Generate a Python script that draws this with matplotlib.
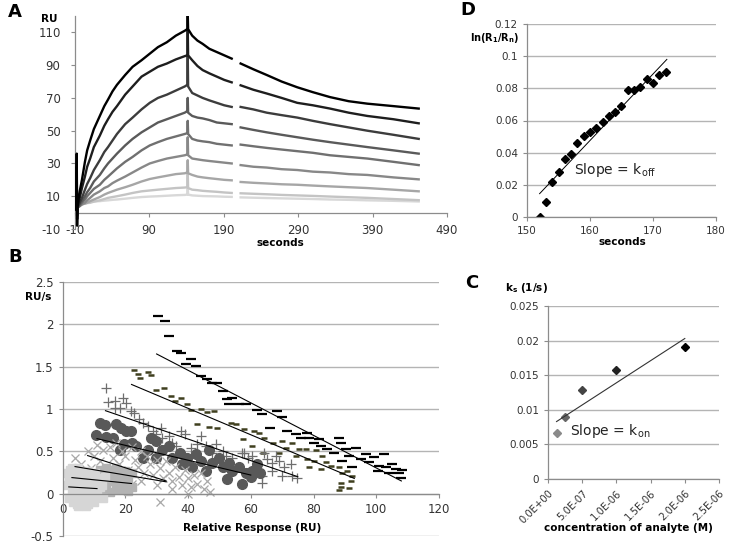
import numpy as np
import matplotlib.pyplot as plt

plt.rcParams["font.family"] = ["DejaVu Sans"]
plt.rcParams["axes.unicode_minus"] = False

# ---------------- panel A: sensorgrams ----------------
nan = np.nan
t_assoc = [-10, -7.5, -7, -6.5, -6, -3, 0, 4, 7, 11, 16, 24, 30, 35, 41, 47, 58, 68, 80, 91,
           102, 114, 126, 138, 141.5]
t_spike = [142]
t_diss = [142.5, 148, 155, 162, 171, 181, 191, 201, 207, 213, 230, 248, 268, 289,
          310, 333, 358, 383, 418, 452]

c1_assoc = [2, 2, 36, -8, 4, 13, 20, 31, 38, 44, 51, 59, 65, 69, 74, 78, 84, 89, 93, 97, 101, 104, 108, 111, 112]
c2_assoc = [2, 2, 28, -4, 3, 9, 15, 22, 28, 33, 40, 47, 53, 57, 61.5, 65, 72, 77, 83, 86, 89, 91, 93.5, 95.5, 96]
c3_assoc = [2, 2, 20, -2, 3, 6, 9, 14, 17.5, 21, 26, 32, 37, 40, 44, 48, 54, 58, 63, 67, 70, 72, 74.5, 77, 78]
c4_assoc = [3, 3, 10, 1, 3, 5, 7, 10, 12.5, 15, 19, 23, 27, 30, 33, 36, 41, 45, 49, 52, 55, 57, 59, 61, 62]
c5_assoc = [3, 3, 6, 2, 3, 4, 6, 8, 10, 12, 14.5, 17, 20, 22, 24.5, 27, 31, 34, 38, 41, 43, 45, 46.5, 48, 48.5]
c6_assoc = [3, 3, 4, 3, 3, 4, 5, 6, 7.5, 9, 11, 13, 15, 16, 18, 19.5, 22, 24.5, 27.5, 30, 31.5, 33, 34, 35, 35.5]
c7_assoc = [4, 4, 4, 4, 4, 4, 5, 5.5, 6, 7, 8, 9.5, 11, 12, 13, 14, 15.5, 17, 19, 20.5, 21.5, 22.5, 23.5, 24, 24.5]
c8_assoc = [5, 5, 5, 5, 5, 5, 5, 5.5, 5.8, 6, 6.7, 7.5, 8.3, 9, 9.5, 10, 11, 12, 13, 13.5, 14, 14.5, 15, 15.3, 15.5]
c9_assoc = [6, 6, 6, 6, 6, 6, 6, 6, 6.2, 6.5, 6.8, 7, 7.3, 7.5, 7.8, 8, 8.5, 9, 9.5, 9.8, 10, 10.3, 10.6, 10.8, 11]

spikes = [121, 112, 96, 70, 56, 46, 32, 24, 16]

c1_diss = [112, 108, 105, 103, 100, 98, 96, 94, nan, 91, 87.5, 84, 80, 76.5, 73.5, 70.5, 68, 66.5, 65, 63.5]
c2_diss = [96, 93, 89.5, 87, 85, 83, 81, 79.5, nan, 77.7, 75, 72.7, 70, 67, 65.5, 63.5, 61, 59, 57, 54.5]
c3_diss = [77, 73, 71.5, 70, 68.5, 67, 65.5, 64.5, nan, 64.5, 63, 61, 59.5, 58, 56, 54, 52, 50, 47.5, 45]
c4_diss = [61, 59, 58, 57.5, 56.5, 55, 54.5, 54, nan, 52, 50.5, 49, 47.5, 46, 44.5, 43, 41.5, 40, 38, 36]
c5_diss = [48, 45, 44, 43.5, 43, 42, 41.5, 41, nan, 41.5, 40.5, 39.5, 38.5, 37.5, 36.5, 35, 34, 33, 31, 29]
c6_diss = [35, 33, 32.5, 32, 31.5, 31, 30.5, 30, nan, 29, 28, 27.5, 26.5, 26, 25, 24.5, 23.5, 23, 21.5, 20.3]
c7_diss = [24, 23, 22, 21.5, 21, 20.5, 20, 19.7, nan, 18.7, 18.2, 17.8, 17.3, 17, 16.5, 16, 15.5, 15, 14, 13]
c8_diss = [15, 14, 13.7, 13.3, 13, 12.7, 12.3, 12, nan, 11.8, 11.5, 11.2, 10.8, 10.5, 10.2, 9.8, 9.4, 9, 8.3, 7.6]
c9_diss = [11, 10.5, 10.3, 10.1, 10, 9.9, 9.7, 9.6, nan, 9.3, 9.1, 8.9, 8.7, 8.5, 8.3, 8, 7.8, 7.5, 7.2, 6.8]

assoc = [c1_assoc, c2_assoc, c3_assoc, c4_assoc, c5_assoc, c6_assoc, c7_assoc, c8_assoc, c9_assoc]
diss = [c1_diss, c2_diss, c3_diss, c4_diss, c5_diss, c6_diss, c7_diss, c8_diss, c9_diss]
curve_colors = ["#000000", "#1e1e1e", "#3c3c3c", "#5a5a5a", "#707070",
                "#888888", "#a6a6a6", "#c4c4c4", "#d8d8d8"]

# ---------------- panel B: scatchard-like plot ----------------
b1_x = [30.3, 32.7, 34, 36.4, 37.8, 41, 39.5, 42.6, 44.2, 46.2, 47.8, 49.4, 51, 52.5, 54, 53.2,
        56.4, 58.5, 62, 63.7, 68.5, 70, 66, 71.7, 74.5, 78, 78.7, 76, 81.8, 80.3, 82.5, 88, 88.8,
        84.4, 86.6, 90.4, 93.6, 91.4, 96.8, 99.4, 102.5, 95.2, 97.8, 101, 103, 105, 106.4, 108.3,
        104, 107.3, 108, 100.4, 92.4, 89]
b1_y = [2.1, 2.04, 1.86, 1.69, 1.66, 1.59, 1.53, 1.51, 1.39, 1.35, 1.31, 1.31, 1.21, 1.12, 1.13,
        1.06, 1.06, 1.06, 0.99, 0.94, 0.98, 0.9, 0.78, 0.74, 0.7, 0.72, 0.66, 0.66, 0.65, 0.6, 0.56,
        0.66, 0.6, 0.53, 0.48, 0.53, 0.54, 0.45, 0.47, 0.43, 0.47, 0.41, 0.37, 0.33, 0.31, 0.35,
        0.29, 0.28, 0.25, 0.24, 0.18, 0.27, 0.31, 0.39]
b2_x = [22.9, 24, 24.8, 27.1, 28.3, 29.9, 32.5, 34.7, 35.7, 37.9, 39.8, 41, 44.3, 46.2, 48.4, 43,
        46.8, 49.4, 53.8, 55.4, 58, 61, 62.7, 57.4, 64.3, 67, 70, 73.3, 60.5, 71.3, 75.5, 77.7,
        80.9, 82.8, 74.5, 78, 80.3, 84, 85.7, 82.5, 88.2, 90.8, 92.4, 89.2, 88.8, 92, 88.8, 91.4,
        78.7, 69, 63.8, 88]
b2_y = [1.46, 1.41, 1.37, 1.44, 1.4, 1.22, 1.25, 1.15, 1.09, 1.13, 1.06, 0.99, 1.0, 0.97, 0.98,
        0.82, 0.79, 0.78, 0.84, 0.82, 0.76, 0.74, 0.72, 0.65, 0.66, 0.6, 0.62, 0.6, 0.56, 0.54,
        0.53, 0.53, 0.51, 0.45, 0.45, 0.41, 0.39, 0.37, 0.33, 0.29, 0.31, 0.27, 0.21, 0.25, 0.13,
        0.15, 0.08, 0.07, 0.31, 0.48, 0.48, 0.04]
b3_x = [14, 14.4, 16.6, 19.2, 20.3, 16.6, 18.2, 21.9, 22.9, 24.5, 25.6, 27.2, 28.8, 29.9, 31.5,
        31.8, 34, 35, 37.9, 38.9, 36.3, 41, 44.2, 43, 45.8, 49, 47.8, 51, 52.2, 54.1, 57.3, 59, 58,
        60.5, 64.3, 65.3, 66.9, 69.1, 70.7, 72.9, 73.2, 74.8, 70, 66.9, 63.7, 63.7, 68.1, 62.1]
b3_y = [1.25, 1.08, 1.1, 1.13, 1.07, 1.01, 1.01, 0.98, 0.95, 0.88, 0.84, 0.8, 0.74, 0.71, 0.78,
        0.66, 0.68, 0.6, 0.74, 0.71, 0.56, 0.54, 0.68, 0.59, 0.56, 0.59, 0.48, 0.5, 0.45, 0.42,
        0.48, 0.42, 0.48, 0.45, 0.48, 0.41, 0.36, 0.39, 0.31, 0.35, 0.21, 0.19, 0.21, 0.27, 0.21,
        0.13, 0.45, 0.33]
b4_x = [11.8, 13.7, 10.8, 14, 16, 17.2, 18.8, 20.3, 21.9, 19.7, 22.3, 23.5, 28.3, 29.9, 27.1,
        31.8, 34, 37.3, 35, 39.8, 42.6, 44.2, 46.8, 47.8, 50, 51, 53.2, 54.1, 56.4, 58.6, 52.5,
        57.3, 60.5, 45.8, 41.4, 38.2, 29.9, 25.5, 18.2, 62, 60, 63]
b4_y = [0.84, 0.81, 0.69, 0.67, 0.66, 0.82, 0.78, 0.74, 0.74, 0.59, 0.6, 0.56, 0.66, 0.62, 0.51,
        0.51, 0.56, 0.48, 0.42, 0.42, 0.47, 0.39, 0.51, 0.36, 0.42, 0.31, 0.36, 0.27, 0.31, 0.24,
        0.17, 0.12, 0.27, 0.27, 0.31, 0.35, 0.42, 0.42, 0.51, 0.35, 0.2, 0.25]
b5_x = [4, 6, 8, 9, 10, 11, 12, 13, 14, 15, 16, 17, 18, 19, 20, 21, 22, 23, 24, 25, 26, 27, 28,
        29, 30, 31, 31, 32, 33, 34, 35, 36, 37, 38, 39, 40, 41, 42, 43, 44, 45, 46, 47, 20, 25, 15,
        10, 30, 35, 40, 22]
b5_y = [0.42, 0.35, 0.5, 0.3, 0.45, 0.58, 0.38, 0.52, 0.3, 0.55, 0.42, 0.6, 0.35, 0.5, 0.45, 0.28,
        0.55, 0.4, 0.32, 0.5, 0.25, 0.45, 0.35, 0.22, 0.4, -0.1, 0.3, 0.18, 0.38, 0.25, 0.15, 0.32,
        0.2, 0.1, 0.28, 0.18, 0.08, 0.22, 0.12, 0.25, 0.05, 0.15, 0.02, 0.2, 0.15, 0.25, 0.25, 0.1,
        0.05, 0.0, 0.12]
b6_x = [12, 13, 14, 15, 16, 17, 18, 18, 19, 20, 21, 22, 13, 15, 17, 19, 21, 16, 20, 14, 12, 22, 18]
b6_y = [0.28, 0.2, 0.1, 0.25, 0.15, 0.3, 0.05, 0.22, 0.12, 0.27, 0.18, 0.08, 0.05, 0.02, 0.1,
        0.2, 0.03, 0.28, 0.1, 0.3, 0.15, 0.25, 0.15]
b7_x = [1, 1.5, 2, 2, 2.5, 3, 3, 3.5, 4, 4, 4.5, 5, 5, 5.5, 6, 6, 6.5, 7, 7, 7.5, 8, 8, 8.5, 9, 9,
        9.5, 10, 10, 10.5, 11, 11, 12, 3, 5, 7, 9, 2, 4, 6, 8, 10, 12.5, 13, 13.5]
b7_y = [0.25, 0.1, 0.2, -0.05, 0.28, 0.15, 0.0, -0.1, 0.22, 0.08, -0.12, 0.3, 0.05, 0.18, -0.08,
        0.25, 0.12, 0.0, 0.2, -0.15, 0.1, 0.27, -0.05, 0.15, 0.03, 0.22, -0.1, 0.12, 0.25, 0.0,
        0.18, 0.08, 0.3, -0.15, -0.12, -0.02, 0.15, -0.05, 0.05, -0.12, 0.2, 0.1, -0.05, 0.2]

# linear fits (start x, end x) / (start y, end y)
fit_x = [[30, 108], [22, 93], [13.7, 75], [11, 60], [8, 33], [4, 33], [3, 22], [2, 11]]
fit_y = [[1.65, 0.15], [1.29, 0.18], [0.98, 0.2], [0.65, 0.22], [0.45, 0.15], [0.32, 0.14],
         [0.19, 0.12], [0.08, 0.06]]

# ---------------- panel D: ln(R1/Rn) vs time ----------------
d_t = [152, 153, 154, 155, 156, 157, 158, 159, 160, 161, 162, 163, 164, 165, 166, 167, 168, 169,
       170, 171, 172]
d_ln = [0.0, 0.0095, 0.0215, 0.028, 0.036, 0.039, 0.046, 0.0505, 0.053, 0.0555, 0.059, 0.063,
        0.065, 0.069, 0.079, 0.079, 0.081, 0.086, 0.0835, 0.0885, 0.09]
d_fit_t = [152, 172.2]
d_fit_y = [0.0145, 0.098]

# ---------------- panel C: ks vs concentration ----------------
c_conc = [1.25e-7, 2.5e-7, 5e-7, 1e-6, 2e-6]
c_ks = [0.0066, 0.009, 0.0129, 0.0158, 0.0191]
c_colors = ["#8a8a8a", "#666666", "#444444", "#222222", "#000000"]
c_fit_x = [1.25e-7, 2e-6]
c_fit_y = [0.0083, 0.0203]

W, H = 729, 543
fig = plt.figure(figsize=(W / 100, H / 100), dpi=100)


def box(x0, y0, x1, y1):
    # pixel box -> figure fraction
    return [x0 / W, 1 - y1 / H, (x1 - x0) / W, (y1 - y0) / H]


def style(ax, size):
    for s in ["top", "right"]:
        ax.spines[s].set_visible(False)
    for s in ["left", "bottom"]:
        ax.spines[s].set_color("#8c8c8c")
        ax.spines[s].set_linewidth(0.9)
    ax.tick_params(colors="#8c8c8c", labelcolor="#333333", labelsize=size, length=3, width=0.8)


# panel A
axA = fig.add_axes(box(74.5, 16, 447, 229))
style(axA, 8.5)
for i in range(9):
    t = t_assoc + t_spike + t_diss
    v = assoc[i] + [spikes[i]] + diss[i]
    axA.plot(t, v, color=curve_colors[i], lw=1.7, zorder=10 - i)
axA.set_xlim(-10, 490)
axA.set_ylim(-10, 120)
axA.set_xticks([-10, 90, 190, 290, 390, 490])
axA.set_yticks([-10, 10, 30, 50, 70, 90, 110])
axA.spines["bottom"].set_position(("data", 0))
axA.tick_params(axis="x", pad=5)
axA.tick_params(axis="y", pad=7)

# panel B
axB = fig.add_axes(box(62.5, 282, 439, 536))
style(axB, 8.5)
axB.spines["bottom"].set_position(("data", 0))
axB.set_xlim(0, 120)
axB.set_ylim(-0.5, 2.5)
axB.set_yticks([-0.5, 0, 0.5, 1, 1.5, 2, 2.5])
axB.set_yticklabels(["-0.5", "0", "0.5", "1", "1.5", "2", "2.5"])
axB.set_xticks([0, 20, 40, 60, 80, 100, 120])
axB.tick_params(axis="x", pad=4)
axB.yaxis.grid(True, color="#b4b4b4", lw=1)
axB.set_axisbelow(True)
axB.plot(b1_x, b1_y, ls="none", marker="_", ms=7, mew=1.6, color="#000000")
axB.plot(b2_x, b2_y, ls="none", marker="_", ms=5, mew=1.8, color="#3f3f1e")
axB.plot(b3_x, b3_y, ls="none", marker="+", ms=7, mew=0.9, color="#6e6e6e")
axB.plot(b4_x, b4_y, ls="none", marker="o", ms=7, color="#595959")
axB.plot(b5_x, b5_y, ls="none", marker="x", ms=6, mew=0.9, color="#a8a8a8")
axB.plot(b6_x, b6_y, ls="none", marker="s", ms=5.5, color="#b3b3b3")
axB.plot(b7_x, b7_y, ls="none", marker="s", ms=5.5, color="#d6d6d6")
for fx, fy in zip(fit_x, fit_y):
    axB.plot(fx, fy, color="black", lw=0.8)

# panel D
axD = fig.add_axes(box(527, 24, 716, 217))
style(axD, 7.5)
axD.set_xlim(150, 180)
axD.set_ylim(0, 0.12)
axD.set_xticks([150, 160, 170, 180])
axD.set_yticks([0, 0.02, 0.04, 0.06, 0.08, 0.1, 0.12])
axD.set_yticklabels(["0", "0.02", "0.04", "0.06", "0.08", "0.1", "0.12"])
axD.yaxis.grid(True, color="#b4b4b4", lw=1)
axD.set_axisbelow(True)
axD.plot(d_t, d_ln, ls="none", marker="D", ms=4.5, color="black")
axD.plot(d_fit_t, d_fit_y, color="black", lw=0.7)
axD.text(157.5, 0.0265, r"Slope = k$_{\mathrm{off}}$", fontsize=10, color="#222222")

# panel C
axC = fig.add_axes(box(548, 306, 719, 479))
style(axC, 7.5)
axC.set_xlim(0, 2.5e-6)
axC.set_ylim(0, 0.025)
axC.set_xticks([0, 5e-7, 1e-6, 1.5e-6, 2e-6, 2.5e-6])
axC.set_xticklabels(["0.0E+00", "5.0E-07", "1.0E-06", "1.5E-06", "2.0E-06", "2.5E-06"],
                    rotation=45, ha="right", rotation_mode="anchor", fontsize=7.2)
axC.set_yticks([0, 0.005, 0.01, 0.015, 0.02, 0.025])
axC.set_yticklabels(["0", "0.005", "0.01", "0.015", "0.02", "0.025"])
axC.yaxis.grid(True, color="#b4b4b4", lw=1)
axC.set_axisbelow(True)
for cx, cy, cc in zip(c_conc, c_ks, c_colors):
    axC.plot(cx, cy, ls="none", marker="D", ms=4.5, color=cc)
axC.plot(c_fit_x, c_fit_y, color="#333333", lw=0.8)
axC.text(3.2e-7, 0.0063, r"Slope = k$_{\mathrm{on}}$", fontsize=10, color="#222222")

# labels
fig.text(15 / W, 1 - 12 / H, "A", fontsize=13, fontweight="bold", ha="center", va="center")
fig.text(15 / W, 1 - 257 / H, "B", fontsize=13, fontweight="bold", ha="center", va="center")
fig.text(468 / W, 1 - 10 / H, "D", fontsize=13, fontweight="bold", ha="center", va="center")
fig.text(472 / W, 1 - 283 / H, "C", fontsize=13, fontweight="bold", ha="center", va="center")

fig.text(49 / W, 1 - 19 / H, "RU", fontsize=7.5, fontweight="bold", ha="center", va="center")
fig.text(280 / W, 1 - 243 / H, "seconds", fontsize=7.5, fontweight="bold", ha="center", va="center")
fig.text(38 / W, 1 - 297 / H, "RU/s", fontsize=7.5, fontweight="bold", ha="center", va="center")
fig.text(252 / W, 1 - 528 / H, "Relative Response (RU)", fontsize=7.5, fontweight="bold",
         ha="center", va="center")
fig.text(495 / W, 1 - 38 / H, r"ln(R$_\mathbf{1}$/R$_\mathbf{n}$)", fontsize=7,
         fontweight="bold", ha="center", va="center")
fig.text(622 / W, 1 - 242 / H, "seconds", fontsize=7.5, fontweight="bold", ha="center", va="center")
fig.text(527 / W, 1 - 288 / H, r"k$_\mathbf{s}$ (1/s)", fontsize=7.5, fontweight="bold",
         ha="center", va="center")
fig.text(628 / W, 1 - 528 / H, "concentration of analyte (M)", fontsize=7.5, fontweight="bold",
         ha="center", va="center")

fig.savefig("out.png", dpi=100)
